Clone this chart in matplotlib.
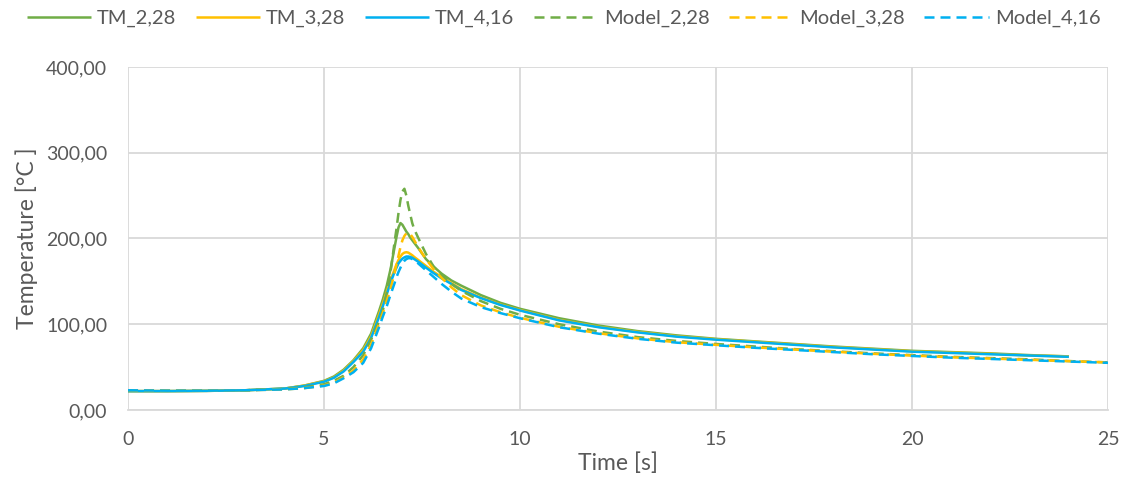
import matplotlib
matplotlib.use("Agg")
import matplotlib.pyplot as plt
from matplotlib.ticker import FuncFormatter, MultipleLocator

# Time axis [s]
t_tm = [0, 1, 2, 3, 4, 4.5, 5, 5.25, 5.5, 5.75, 6, 6.2, 6.4, 6.5, 6.6, 6.7,
        6.8, 6.85, 6.9, 6.95, 7.0, 7.05, 7.1, 7.15, 7.2, 7.25, 7.3, 7.4, 7.6,
        7.8, 8.0, 8.25, 8.5, 9, 9.5, 10, 11, 12, 13, 14, 15, 16, 17, 18, 19,
        20, 21, 22, 23, 24]
t_model = t_tm + [25]

# Measured temperatures [°C]
tm_2_28 = [22, 22, 22.3, 23, 25, 28.5, 34, 39, 47, 58, 72, 89, 115, 129, 145, 165,
           190, 202, 213, 218, 216, 212, 208, 205, 201, 198, 195, 189, 176,
           167, 159, 151, 145, 134, 125, 118, 107, 98.5, 92, 87, 83, 80, 77, 74, 71.5,
           69, 67.5, 66, 64, 62.5]
tm_3_28 = [22, 22, 22.3, 23, 25, 28.5, 33.5, 38, 46, 57, 70, 86, 111, 124, 138, 152,
           164, 170, 175, 179, 182, 183.5, 184, 183.5, 182, 180.5, 178.5, 175, 168,
           161, 155, 148, 141, 131, 123, 116.5, 105, 97, 91, 86, 82.5, 79.5, 76.5, 73.5, 71,
           68.5, 67, 65.5, 63.5, 62.5]
tm_4_16 = [22, 22, 22.3, 23, 25, 28, 33, 37.5, 45, 56, 68, 84, 108, 121, 135, 149,
           161, 166, 171, 174, 176.5, 178, 179, 179, 178.5, 177.5, 176, 173, 166,
           159.5, 153.5, 147, 140, 130.5, 122.5, 116, 104.5, 96.5, 90.5, 85.5, 82, 79, 76, 73, 70.5,
           68, 66.5, 65, 63.5, 62]

# Model temperatures [°C]
model_2_28 = [23, 22.5, 22.5, 23, 24.5, 26.5, 30, 34, 40, 50, 64, 82, 103, 116, 136, 162,
              196, 212, 230, 245, 255, 258, 250, 238, 228, 218, 211, 201, 182,
              167, 157, 147, 139, 127, 118, 111, 100, 91.5, 85, 80.5, 77, 74, 71, 68.5, 66,
              64, 62, 60.5, 59, 57, 55.5]
model_3_28 = [23, 22.5, 22.5, 23, 24, 25.5, 28.5, 32, 38, 46, 59, 76, 100, 113, 127, 142,
              160, 170, 180, 190, 198, 203, 206, 207, 205, 202, 198, 190, 176,
              164, 154, 143, 134, 122, 114, 107.5, 97, 89.5, 83.5, 79, 76, 73, 70.5, 68, 65.5,
              63.5, 61.5, 60, 58.5, 57, 55.5]
model_4_16 = [23, 22.5, 22.5, 23, 24, 25.5, 28, 31, 37, 44, 55, 72, 96, 109, 121, 135,
              148, 155, 161, 166, 171, 174, 176, 177, 177, 176, 175, 171, 163,
              155, 147, 138, 130, 120, 113, 107, 96.5, 89, 83, 78.5, 75.5, 72.5, 70, 67.5, 65,
              63, 61, 59.5, 58, 56.5, 55]

labels = ["TM_2,28", "TM_3,28", "TM_4,16", "Model_2,28", "Model_3,28", "Model_4,16"]
colors = ["#70AD47", "#FFC000", "#00B0F0"]
text_color = "#595959"
grid_color = "#D9D9D9"

plt.rcParams["font.family"] = ["Lato", "DejaVu Sans"]

fig = plt.figure(figsize=(11.27, 4.92), dpi=100)
ax = fig.add_axes([0.1136, 0.1667, 0.8696, 0.6971])

lw = 1.8
dash = (0, (4.0, 2.4))
for y, c, lab in zip([tm_2_28, tm_3_28, tm_4_16], colors, labels[:3]):
    ax.plot(t_tm, y, color=c, lw=lw, label=lab, solid_capstyle="butt")
for y, c, lab in zip([model_2_28, model_3_28, model_4_16], colors, labels[3:]):
    ax.plot(t_model, y, color=c, lw=lw, label=lab, linestyle=dash,
            dash_capstyle="butt")

ax.set_xlim(0, 25)
ax.set_ylim(0, 400)
ax.xaxis.set_major_locator(MultipleLocator(5))
ax.yaxis.set_major_locator(MultipleLocator(100))
ax.yaxis.set_major_formatter(FuncFormatter(lambda v, p: f"{v:.2f}".replace(".", ",")))

ax.grid(True, color=grid_color, lw=1.3)
ax.set_axisbelow(True)
for name, sp in ax.spines.items():
    sp.set_visible(name == "bottom")
ax.spines["bottom"].set_color(grid_color)
ax.spines["bottom"].set_linewidth(1.3)
ax.tick_params(length=0, labelsize=14, colors=text_color)
ax.tick_params(axis="y", pad=15)
ax.tick_params(axis="x", pad=15)

ax.set_xlabel("Time [s]", fontsize=16.5, color=text_color, labelpad=3)
ax.set_ylabel("Temperature [°C ]", fontsize=16.5, color=text_color, labelpad=6)

fig.legend(loc="upper center", bbox_to_anchor=(0.5, 1.0), ncol=6, frameon=False,
           fontsize=14.5, labelcolor=text_color, handlelength=3.2, handletextpad=0.3,
           columnspacing=0.95, borderaxespad=0.1)

fig.savefig("out.png", dpi=100)
